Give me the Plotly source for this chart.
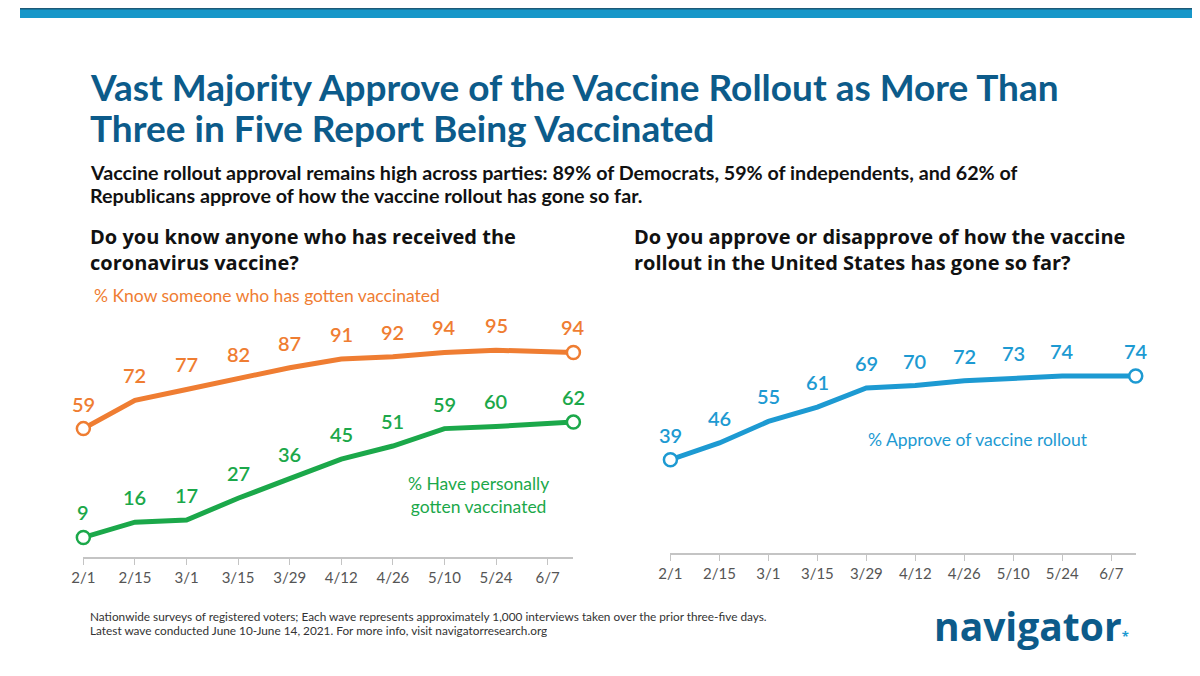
import plotly.graph_objects as go

# survey waves (last wave fielded June 10-14)
dates = ['2021-02-01', '2021-02-15', '2021-03-01', '2021-03-15', '2021-03-29',
         '2021-04-12', '2021-04-26', '2021-05-10', '2021-05-24', '2021-06-14']
know_someone = [59, 72, 77, 82, 87, 91, 92, 94, 95, 94]
vaccinated = [9, 16, 17, 27, 36, 45, 51, 59, 60, 62]
approve = [39, 46, 55, 61, 69, 70, 72, 73, 74, 74]

tick_dates = ['2021-02-01', '2021-02-15', '2021-03-01', '2021-03-15', '2021-03-29',
              '2021-04-12', '2021-04-26', '2021-05-10', '2021-05-24', '2021-06-07']
tick_text = ['2/1', '2/15', '3/1', '3/15', '3/29', '4/12', '4/26', '5/10', '5/24', '6/7']

ORANGE = '#ef7d32'
GREEN = '#1ba84a'
BLUE = '#1d9ad2'
NAVY = '#0c5b8a'
FONT = 'Lato'
HEAVY = 'Open Sans'
W, H = 1200, 676
OFF = 8  # page body margin, so reference pixels are shifted by this


def px(x):
    return (x - OFF) / W


def py(y):
    return 1 - (y - OFF) / H


fig = go.Figure()


def add_series(x, y, color, xa, ya):
    fig.add_trace(go.Scatter(
        x=x, y=y, mode='lines', xaxis=xa, yaxis=ya,
        line=dict(color=color, width=5), cliponaxis=False, hoverinfo='skip'))
    # open circles only at first and last wave
    fig.add_trace(go.Scatter(
        x=[x[0], x[-1]], y=[y[0], y[-1]], mode='markers', xaxis=xa, yaxis=ya,
        marker=dict(size=13, color='white', line=dict(color=color, width=2.5)),
        cliponaxis=False, hoverinfo='skip'))
    for xi, yi in zip(x, y):
        fig.add_annotation(x=xi, y=yi, xref=xa, yref=ya, text=str(yi),
                           showarrow=False, yshift=25,
                           font=dict(family=FONT, size=20, color=color, weight=600))


add_series(dates, know_someone, ORANGE, 'x', 'y')
add_series(dates, vaccinated, GREEN, 'x', 'y')
add_series(dates, approve, BLUE, 'x2', 'y2')

xaxis_style = dict(
    type='date', range=['2021-02-01', '2021-06-14'],
    tickvals=tick_dates, ticktext=tick_text,
    showgrid=False, zeroline=False, showline=True, linecolor='#c4c4c4', linewidth=1.5,
    ticks='outside', ticklen=6, tickcolor='#c4c4c4',
    tickfont=dict(family=FONT, size=15, color='#555555'))
yaxis_style = dict(range=[0, 100], visible=False, showgrid=False, zeroline=False)

fig.update_layout(
    width=W, height=H,
    margin=dict(l=0, r=0, t=0, b=0),
    paper_bgcolor='white', plot_bgcolor='white',
    showlegend=False,
    xaxis=dict(domain=[px(72), px(567)], anchor='y', **xaxis_style),
    yaxis=dict(domain=[py(557), py(339.4)], anchor='x', **yaxis_style),
    xaxis2=dict(domain=[px(665), px(1135)], anchor='y2', **xaxis_style),
    yaxis2=dict(domain=[py(553), py(313.8)], anchor='x2', **yaxis_style),
)

# top banner
fig.add_shape(type='rect', xref='paper', yref='paper', x0=0, x1=1,
              y0=py(18), y1=1, fillcolor='#1797c9', line_width=0, layer='below')
fig.add_shape(type='rect', xref='paper', yref='paper', x0=0, x1=1,
              y0=py(9.5), y1=1, fillcolor='#1c5a78', line_width=0, layer='below')


def text(x, y, s, size, color, family=FONT, weight=400, anchor='left', align='left',
         box=None):
    fig.add_annotation(x=px(x), y=py(y), xref='paper', yref='paper',
                       text=s, showarrow=False, height=box,
                       xanchor=anchor, yanchor='middle', align=align,
                       font=dict(family=family, size=size, color=color, weight=weight))


text(77, 86, 'Vast Majority Approve of the Vaccine Rollout as More Than', 37, NAVY,
     weight=700, box=40)
text(77, 127, 'Three in Five Report Being Vaccinated', 37, NAVY, weight=700, box=40)
text(77, 173, 'Vaccine rollout approval remains high across parties: 89% of Democrats, '
              '59% of independents, and 62% of', 19.7, '#111111', weight=700, box=23)
text(77, 196, 'Republicans approve of how the vaccine rollout has gone so far.',
     19.7, '#111111', weight=700, box=23)
text(77, 249, 'Do you know anyone who has received the<br>coronavirus vaccine?',
     20, '#111111', HEAVY, 700)
text(626, 249, 'Do you approve or disapprove of how the vaccine<br>'
               'rollout in the United States has gone so far?', 20, '#111111', HEAVY, 700)

# series labels
text(81, 296, '% Know someone who has gotten vaccinated', 17.5, ORANGE)
text(471, 495, '% Have personally<br>gotten vaccinated', 17.5, GREEN, anchor='center',
     align='center')
text(863, 439, '% Approve of vaccine rollout', 17.5, BLUE)

# footnote
text(77, 616, 'Nationwide surveys of registered voters; Each wave represents approximately '
              '1,000 interviews taken over the prior three-five days.', 11.8, '#333333',
     box=14)
text(77, 630, 'Latest wave conducted June 10-June 14, 2021. For more info, visit '
              'navigatorresearch.org', 11.8, '#333333', box=14)

# logo
text(929, 625, 'navigator<span style="color:#1d9ad2;font-size:13px">*</span>',
     39, NAVY, HEAVY, 700)

fig.write_html("out.html")
